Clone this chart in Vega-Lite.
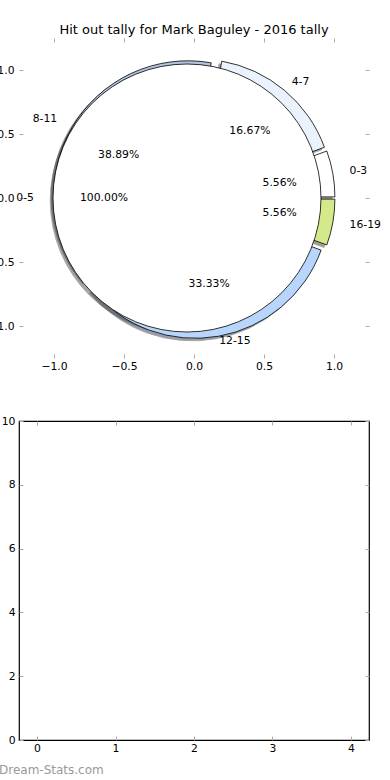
{
  "$schema": "https://vega.github.io/schema/vega-lite/v6.json",
  "autosize": {"type": "pad"},
  "padding": {"left": -13, "top": 23, "right": 23, "bottom": 0},
  "spacing": 43,
  "config": {
    "font": "DejaVu Sans",
    "axis": {"labelFont": "DejaVu Sans", "labelFontSize": 10.8, "labelColor": "#000000", "tickColor": "#aaaaaa", "tickWidth": 1, "tickSize": -4, "domain": false, "grid": false, "labelFlush": false, "labelOverlap": false},
    "title": {"font": "DejaVu Sans", "fontWeight": "normal", "fontSize": 13, "color": "#000000"},
    "text": {"font": "DejaVu Sans", "fontSize": 10.8}
  },
  "datasets": {
    "outer": [
      {"label": "0-3", "n": 1, "k": 0, "pct": "5.56%"},
      {"label": "4-7", "n": 3, "k": 1, "pct": "16.67%"},
      {"label": "8-11", "n": 7, "k": 2, "pct": "38.89%"},
      {"label": "12-15", "n": 6, "k": 3, "pct": "33.33%"},
      {"label": "16-19", "n": 1, "k": 4, "pct": "5.56%"}
    ],
    "inner": [
      {"label": "0-5", "n": 1, "pct": "100.00%"}
    ],
    "empty": []
  },
  "vconcat": [
    {
      "width": 350,
      "height": 320,
      "view": {"stroke": null},
      "title": {"text": "Hit out tally for Mark Baguley - 2016 tally", "offset": 1},
      "resolve": {"scale": {"theta": "independent"}, "axis": {"x": "independent", "y": "independent"}},
      "layer": [
        {
          "data": {"name": "inner"},
          "mark": {"type": "arc", "radius": 134, "fill": "#4d4d4d", "stroke": "#4d4d4d", "strokeWidth": 0.8, "opacity": 0.5},
          "encoding": {
            "theta": {"field": "n", "type": "quantitative", "stack": true, "scale": {"domain": [0, 1], "range": [1.5707963267948966, -4.7124]}},
            "x": {"datum": -0.07, "type": "quantitative", "scale": {"domain": [-1.25, 1.25], "nice": false, "zero": false}, "axis": {"orient": "top", "values": [-1, -0.5, 0, 0.5, 1], "labels": false, "title": null}},
            "y": {"datum": -0.02, "type": "quantitative", "scale": {"domain": [-1.25, 1.25], "nice": false, "zero": false}, "axis": {"orient": "right", "values": [-1, -0.5, 0, 0.5, 1], "labels": false, "title": null}}
          }
        },
        {
          "data": {"name": "outer"},
          "mark": {"type": "arc", "radius": 134, "fill": "#4d4d4d", "stroke": "#4d4d4d", "strokeWidth": 0.8},
          "encoding": {
            "theta": {"field": "n", "type": "quantitative", "stack": true, "scale": {"domain": [0, 18], "range": [1.5707963267948966, -4.71238898038469]}},
            "order": {"field": "k", "type": "quantitative"},
            "x": {"datum": 0.0292, "type": "quantitative", "scale": {"domain": [-1.25, 1.25], "nice": false, "zero": false}, "axis": null},
            "y": {"datum": -0.0113, "type": "quantitative", "scale": {"domain": [-1.25, 1.25], "nice": false, "zero": false}, "axis": null},
            "opacity": {"condition": {"test": "datum.label === '0-3'", "value": 0.5}, "value": 0}
          }
        },
        {
          "data": {"name": "outer"},
          "mark": {"type": "arc", "radius": 134, "fill": "#46494c", "stroke": "#46494c", "strokeWidth": 0.8},
          "encoding": {
            "theta": {"field": "n", "type": "quantitative", "stack": true, "scale": {"domain": [0, 18], "range": [1.5707963267948966, -4.71238898038469]}},
            "order": {"field": "k", "type": "quantitative"},
            "x": {"datum": 0.0121, "type": "quantitative", "scale": {"domain": [-1.25, 1.25], "nice": false, "zero": false}, "axis": null},
            "y": {"datum": 0.0183, "type": "quantitative", "scale": {"domain": [-1.25, 1.25], "nice": false, "zero": false}, "axis": null},
            "opacity": {"condition": {"test": "datum.label === '4-7'", "value": 0.5}, "value": 0}
          }
        },
        {
          "data": {"name": "outer"},
          "mark": {"type": "arc", "radius": 134, "fill": "#353b43", "stroke": "#353b43", "strokeWidth": 0.8},
          "encoding": {
            "theta": {"field": "n", "type": "quantitative", "stack": true, "scale": {"domain": [0, 18], "range": [1.5707963267948966, -4.71238898038469]}},
            "order": {"field": "k", "type": "quantitative"},
            "x": {"datum": -0.0633, "type": "quantitative", "scale": {"domain": [-1.25, 1.25], "nice": false, "zero": false}, "axis": null},
            "y": {"datum": 0.005, "type": "quantitative", "scale": {"domain": [-1.25, 1.25], "nice": false, "zero": false}, "axis": null},
            "opacity": {"condition": {"test": "datum.label === '8-11'", "value": 0.5}, "value": 0}
          }
        },
        {
          "data": {"name": "outer"},
          "mark": {"type": "arc", "radius": 134, "fill": "#37404b", "stroke": "#37404b", "strokeWidth": 0.8},
          "encoding": {
            "theta": {"field": "n", "type": "quantitative", "stack": true, "scale": {"domain": [0, 18], "range": [1.5707963267948966, -4.71238898038469]}},
            "order": {"field": "k", "type": "quantitative"},
            "x": {"datum": -0.0113, "type": "quantitative", "scale": {"domain": [-1.25, 1.25], "nice": false, "zero": false}, "axis": null},
            "y": {"datum": -0.0692, "type": "quantitative", "scale": {"domain": [-1.25, 1.25], "nice": false, "zero": false}, "axis": null},
            "opacity": {"condition": {"test": "datum.label === '12-15'", "value": 0.5}, "value": 0}
          }
        },
        {
          "data": {"name": "outer"},
          "mark": {"type": "arc", "radius": 134, "fill": "#404629", "stroke": "#404629", "strokeWidth": 0.8},
          "encoding": {
            "theta": {"field": "n", "type": "quantitative", "stack": true, "scale": {"domain": [0, 18], "range": [1.5707963267948966, -4.71238898038469]}},
            "order": {"field": "k", "type": "quantitative"},
            "x": {"datum": 0.0292, "type": "quantitative", "scale": {"domain": [-1.25, 1.25], "nice": false, "zero": false}, "axis": null},
            "y": {"datum": -0.0287, "type": "quantitative", "scale": {"domain": [-1.25, 1.25], "nice": false, "zero": false}, "axis": null},
            "opacity": {"condition": {"test": "datum.label === '16-19'", "value": 0.5}, "value": 0}
          }
        },
        {
          "data": {"name": "outer"},
          "mark": {"type": "arc", "radius": 134, "stroke": "#000000", "strokeWidth": 0.8},
          "encoding": {
            "theta": {"field": "n", "type": "quantitative", "stack": true, "scale": {"domain": [0, 18], "range": [1.5707963267948966, -4.71238898038469]}},
            "order": {"field": "k", "type": "quantitative"},
            "x": {"datum": 0.0492, "type": "quantitative", "scale": {"domain": [-1.25, 1.25], "nice": false, "zero": false}, "axis": null},
            "y": {"datum": 0.0087, "type": "quantitative", "scale": {"domain": [-1.25, 1.25], "nice": false, "zero": false}, "axis": null},
            "fill": {"field": "label", "type": "nominal", "scale": {"domain": ["0-3", "4-7", "8-11", "12-15", "16-19"], "range": ["#ffffff", "#eaf2fd", "#b0c4de", "#b8d6fb", "#d4ea8a"]}, "legend": null},
            "opacity": {"condition": {"test": "datum.label === '0-3'", "value": 1}, "value": 0}
          }
        },
        {
          "data": {"name": "outer"},
          "mark": {"type": "arc", "radius": 134, "stroke": "#000000", "strokeWidth": 0.8},
          "encoding": {
            "theta": {"field": "n", "type": "quantitative", "stack": true, "scale": {"domain": [0, 18], "range": [1.5707963267948966, -4.71238898038469]}},
            "order": {"field": "k", "type": "quantitative"},
            "x": {"datum": 0.0321, "type": "quantitative", "scale": {"domain": [-1.25, 1.25], "nice": false, "zero": false}, "axis": null},
            "y": {"datum": 0.0383, "type": "quantitative", "scale": {"domain": [-1.25, 1.25], "nice": false, "zero": false}, "axis": null},
            "fill": {"field": "label", "type": "nominal", "scale": {"domain": ["0-3", "4-7", "8-11", "12-15", "16-19"], "range": ["#ffffff", "#eaf2fd", "#b0c4de", "#b8d6fb", "#d4ea8a"]}, "legend": null},
            "opacity": {"condition": {"test": "datum.label === '4-7'", "value": 1}, "value": 0}
          }
        },
        {
          "data": {"name": "outer"},
          "mark": {"type": "arc", "radius": 134, "stroke": "#000000", "strokeWidth": 0.8},
          "encoding": {
            "theta": {"field": "n", "type": "quantitative", "stack": true, "scale": {"domain": [0, 18], "range": [1.5707963267948966, -4.71238898038469]}},
            "order": {"field": "k", "type": "quantitative"},
            "x": {"datum": -0.0433, "type": "quantitative", "scale": {"domain": [-1.25, 1.25], "nice": false, "zero": false}, "axis": null},
            "y": {"datum": 0.025, "type": "quantitative", "scale": {"domain": [-1.25, 1.25], "nice": false, "zero": false}, "axis": null},
            "fill": {"field": "label", "type": "nominal", "scale": {"domain": ["0-3", "4-7", "8-11", "12-15", "16-19"], "range": ["#ffffff", "#eaf2fd", "#b0c4de", "#b8d6fb", "#d4ea8a"]}, "legend": null},
            "opacity": {"condition": {"test": "datum.label === '8-11'", "value": 1}, "value": 0}
          }
        },
        {
          "data": {"name": "outer"},
          "mark": {"type": "arc", "radius": 134, "stroke": "#000000", "strokeWidth": 0.8},
          "encoding": {
            "theta": {"field": "n", "type": "quantitative", "stack": true, "scale": {"domain": [0, 18], "range": [1.5707963267948966, -4.71238898038469]}},
            "order": {"field": "k", "type": "quantitative"},
            "x": {"datum": 0.0087, "type": "quantitative", "scale": {"domain": [-1.25, 1.25], "nice": false, "zero": false}, "axis": null},
            "y": {"datum": -0.0492, "type": "quantitative", "scale": {"domain": [-1.25, 1.25], "nice": false, "zero": false}, "axis": null},
            "fill": {"field": "label", "type": "nominal", "scale": {"domain": ["0-3", "4-7", "8-11", "12-15", "16-19"], "range": ["#ffffff", "#eaf2fd", "#b0c4de", "#b8d6fb", "#d4ea8a"]}, "legend": null},
            "opacity": {"condition": {"test": "datum.label === '12-15'", "value": 1}, "value": 0}
          }
        },
        {
          "data": {"name": "outer"},
          "mark": {"type": "arc", "radius": 134, "stroke": "#000000", "strokeWidth": 0.8},
          "encoding": {
            "theta": {"field": "n", "type": "quantitative", "stack": true, "scale": {"domain": [0, 18], "range": [1.5707963267948966, -4.71238898038469]}},
            "order": {"field": "k", "type": "quantitative"},
            "x": {"datum": 0.0492, "type": "quantitative", "scale": {"domain": [-1.25, 1.25], "nice": false, "zero": false}, "axis": null},
            "y": {"datum": -0.0087, "type": "quantitative", "scale": {"domain": [-1.25, 1.25], "nice": false, "zero": false}, "axis": null},
            "fill": {"field": "label", "type": "nominal", "scale": {"domain": ["0-3", "4-7", "8-11", "12-15", "16-19"], "range": ["#ffffff", "#eaf2fd", "#b0c4de", "#b8d6fb", "#d4ea8a"]}, "legend": null},
            "opacity": {"condition": {"test": "datum.label === '16-19'", "value": 1}, "value": 0}
          }
        },
        {
          "data": {"name": "inner"},
          "mark": {"type": "arc", "radius": 134, "fill": "#ffffff", "stroke": "#000000", "strokeWidth": 0.8},
          "encoding": {
            "theta": {"field": "n", "type": "quantitative", "stack": true, "scale": {"domain": [0, 1], "range": [1.5707963267948966, -4.7124]}},
            "x": {"datum": -0.05, "type": "quantitative", "scale": {"domain": [-1.25, 1.25], "nice": false, "zero": false}, "axis": {"orient": "bottom", "values": [-1, -0.5, 0, 0.5, 1], "format": ".1f", "labelPadding": 6, "title": null}},
            "y": {"datum": 0, "type": "quantitative", "scale": {"domain": [-1.25, 1.25], "nice": false, "zero": false}, "axis": {"orient": "left", "values": [-1, -0.5, 0, 0.5, 1], "format": ".1f", "labelPadding": 9, "title": null}}
          }
        },
        {
          "data": {"name": "outer"},
          "mark": {"type": "text", "radius": 87, "align": "center", "baseline": "middle"},
          "encoding": {
            "theta": {"field": "n", "type": "quantitative", "stack": true, "scale": {"domain": [0, 18], "range": [1.5707963267948966, -4.71238898038469]}},
            "order": {"field": "k", "type": "quantitative"},
            "text": {"field": "pct"}
          }
        },
        {
          "data": {"name": "outer"},
          "mark": {"type": "text", "radius": 158, "align": "left", "baseline": "middle"},
          "encoding": {
            "theta": {"field": "n", "type": "quantitative", "stack": true, "scale": {"domain": [0, 18], "range": [1.5707963267948966, -4.71238898038469]}},
            "order": {"field": "k", "type": "quantitative"},
            "text": {"field": "label"},
            "opacity": {"condition": {"test": "datum.label === '0-3' || datum.label === '16-19'", "value": 1}, "value": 0}
          }
        },
        {
          "data": {"name": "outer"},
          "mark": {"type": "text", "radius": 152, "align": "left", "baseline": "middle"},
          "encoding": {
            "theta": {"field": "n", "type": "quantitative", "stack": true, "scale": {"domain": [0, 18], "range": [1.5707963267948966, -4.71238898038469]}},
            "order": {"field": "k", "type": "quantitative"},
            "text": {"field": "label"},
            "opacity": {"condition": {"test": "datum.label === '4-7'", "value": 1}, "value": 0}
          }
        },
        {
          "data": {"name": "outer"},
          "mark": {"type": "text", "radius": 145, "align": "left", "baseline": "middle"},
          "encoding": {
            "theta": {"field": "n", "type": "quantitative", "stack": true, "scale": {"domain": [0, 18], "range": [1.5707963267948966, -4.71238898038469]}},
            "order": {"field": "k", "type": "quantitative"},
            "text": {"field": "label"},
            "opacity": {"condition": {"test": "datum.label === '12-15'", "value": 1}, "value": 0}
          }
        },
        {
          "data": {"name": "outer"},
          "mark": {"type": "text", "radius": 158, "align": "right", "baseline": "middle"},
          "encoding": {
            "theta": {"field": "n", "type": "quantitative", "stack": true, "scale": {"domain": [0, 18], "range": [1.5707963267948966, -4.71238898038469]}},
            "order": {"field": "k", "type": "quantitative"},
            "text": {"field": "label"},
            "opacity": {"condition": {"test": "datum.label === '8-11'", "value": 1}, "value": 0}
          }
        },
        {
          "data": {"name": "inner"},
          "mark": {"type": "text", "radius": 90, "align": "center", "baseline": "middle"},
          "encoding": {
            "theta": {"field": "n", "type": "quantitative", "stack": true, "scale": {"domain": [0, 1], "range": [1.5707963267948966, -4.7124]}},
            "text": {"field": "pct"}
          }
        },
        {
          "data": {"name": "inner"},
          "mark": {"type": "text", "radius": 160, "align": "right", "baseline": "middle"},
          "encoding": {
            "theta": {"field": "n", "type": "quantitative", "stack": true, "scale": {"domain": [0, 1], "range": [1.5707963267948966, -4.7124]}},
            "text": {"field": "label"}
          }
        }
      ]
    },
    {
      "width": 350,
      "height": 319,
      "view": {"stroke": "#000000", "strokeWidth": 1.2},
      "title": {"text": "Dream-Stats.com", "orient": "bottom", "anchor": "start", "frame": "group", "dx": -20, "color": "#999999", "fontSize": 12, "offset": 12},
      "data": {"name": "empty"},
      "resolve": {"axis": {"x": "independent", "y": "independent"}},
      "layer": [
        {
          "mark": "point",
          "encoding": {
            "x": {"field": "a", "type": "quantitative", "scale": {"domain": [-0.23, 4.23], "nice": false, "zero": false}, "axis": {"orient": "bottom", "values": [0, 1, 2, 3, 4], "format": "d", "labelPadding": 6.5, "title": null}},
            "y": {"field": "b", "type": "quantitative", "scale": {"domain": [0, 10], "nice": false, "zero": false}, "axis": {"orient": "left", "values": [0, 2, 4, 6, 8, 10], "format": "d", "labelPadding": 8, "title": null}}
          }
        },
        {
          "mark": "point",
          "encoding": {
            "x": {"field": "a", "type": "quantitative", "scale": {"domain": [-0.23, 4.23], "nice": false, "zero": false}, "axis": {"orient": "top", "values": [0, 1, 2, 3, 4], "labels": false, "title": null}},
            "y": {"field": "b", "type": "quantitative", "scale": {"domain": [0, 10], "nice": false, "zero": false}, "axis": {"orient": "right", "values": [0, 2, 4, 6, 8, 10], "labels": false, "title": null}}
          }
        }
      ]
    }
  ]
}
